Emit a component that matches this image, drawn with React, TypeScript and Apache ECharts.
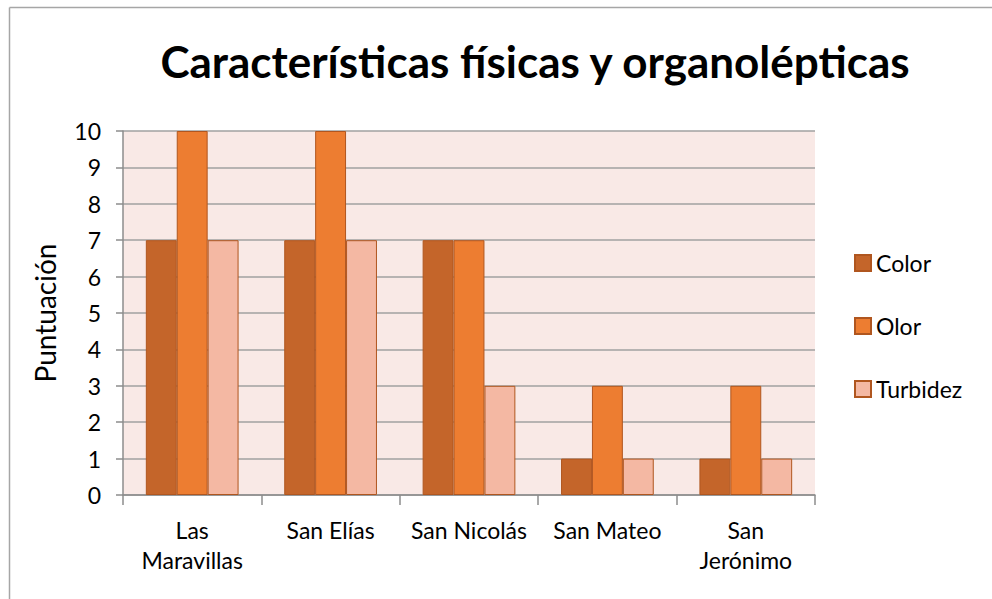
import React, { useEffect, useRef } from "react";
import * as echarts from "echarts";

const categories = ["Las\nMaravillas", "San Elías", "San Nicolás", "San Mateo", "San\nJerónimo"];
const colorValues = [7, 7, 7, 1, 1];
const olorValues = [10, 10, 7, 3, 3];
const turbidezValues = [7, 7, 3, 1, 1];
const seriesNames = ["Color", "Olor", "Turbidez"];
const yTicks = [0, 10, 1];

const FONT = "Lato, 'Noto Sans', sans-serif";

export default function App() {
  const ref = useRef<HTMLDivElement>(null);
  useEffect(() => {
    if (!ref.current) return;
    const chart = echarts.init(ref.current, undefined, { renderer: "svg" });
    const mk = (name: string, data: number[], color: string) => ({
      name,
      type: "bar",
      data,
      barGap: "0%",
      barCategoryGap: "33%",
      itemStyle: { color, borderColor: "#b0561f", borderWidth: 1 },
    });
    chart.setOption({
      animation: false,
      backgroundColor: "#ffffff",
      textStyle: { fontFamily: FONT },
      graphic: [
        {
          type: "line",
          shape: { x1: 9.5, y1: 7.5, x2: 992, y2: 7.5 },
          style: { stroke: "#a6a6a6", lineWidth: 1.5 },
          silent: true,
        },
        {
          type: "line",
          shape: { x1: 9.5, y1: 7.5, x2: 9.5, y2: 599 },
          style: { stroke: "#a6a6a6", lineWidth: 1.5 },
          silent: true,
        },
      ],
      title: {
        text: "Características físicas y organolépticas",
        left: 530,
        textAlign: "center",
        top: 34,
        textStyle: { fontFamily: FONT, fontSize: 44, fontWeight: "bold", color: "#000" },
      },
      grid: {
        left: 123,
        right: 177,
        top: 131,
        bottom: 104,
        show: true,
        backgroundColor: "#f9e9e6",
        borderWidth: 0,
      },
      legend: {
        orient: "vertical",
        left: 849,
        top: 246,
        itemWidth: 16,
        itemHeight: 16,
        itemGap: 39,
        icon: "rect",
        data: seriesNames,
        textStyle: { fontFamily: FONT, fontSize: 23, color: "#000", lineHeight: 24, padding: [0, 0, 0, 0] },
      },
      xAxis: {
        type: "category",
        data: categories,
        axisLine: { lineStyle: { color: "#8c8c8c", width: 1.5 } },
        axisTick: { show: true, length: 10, lineStyle: { color: "#8c8c8c", width: 1.5 } },
        axisLabel: {
          interval: 0,
          margin: 20,
          fontFamily: FONT,
          fontSize: 23,
          color: "#000",
          lineHeight: 30,
        },
      },
      yAxis: {
        type: "value",
        min: yTicks[0],
        max: yTicks[1],
        interval: yTicks[2],
        name: "Puntuación",
        nameLocation: "middle",
        nameGap: 64,
        nameTextStyle: { fontFamily: FONT, fontSize: 28, color: "#000" },
        axisLine: { show: true, lineStyle: { color: "#8c8c8c", width: 1.5 } },
        axisTick: { show: true, length: 7, lineStyle: { color: "#8c8c8c", width: 1.5 } },
        splitLine: { lineStyle: { color: "#a0a0a0", width: 1.5 } },
        axisLabel: { margin: 22, fontFamily: FONT, fontSize: 23, color: "#000" },
      },
      series: [
        mk(seriesNames[0], colorValues, "#c4652a"),
        mk(seriesNames[1], olorValues, "#ed7d31"),
        mk(seriesNames[2], turbidezValues, "#f4b8a3"),
      ],
    });
    return () => chart.dispose();
  }, []);
  return (
    <div
      ref={ref}
      style={{ position: "fixed", left: 0, top: 0, width: 992, height: 599 }}
    />
  );
}
